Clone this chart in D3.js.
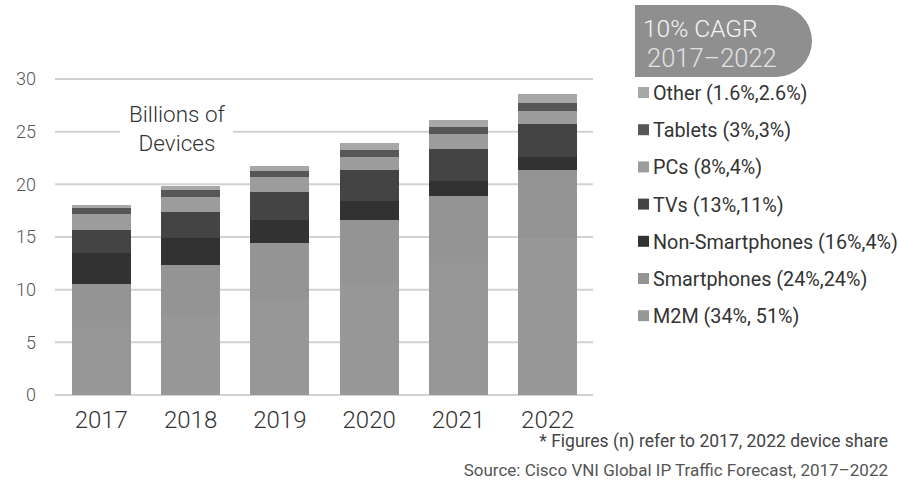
<!DOCTYPE html>
<html>
<head>
<meta charset="utf-8">
<script src="https://cdn.jsdelivr.net/npm/d3@7"></script>
<style>
  html, body { margin: 0; padding: 0; background: #fff; }
  svg { display: block; font-family: Roboto, "Open Sans", "DejaVu Sans", sans-serif; }
</style>
</head>
<body>
<svg id="chart" width="899" height="486"></svg>
<script>
// ---- data ----
const years = ["2017", "2018", "2019", "2020", "2021", "2022"];
const m2m            = [6.5, 7.6, 9.0, 10.6, 12.5, 14.9];
const smartphones    = [4.0, 4.75, 5.45, 6.0, 6.4, 6.5];
const nonSmartphones = [2.95, 2.6, 2.15, 1.85, 1.45, 1.15];
const tvs            = [2.25, 2.45, 2.7, 2.9, 3.05, 3.15];
const pcs            = [1.45, 1.4, 1.35, 1.25, 1.35, 1.3];
const tablets        = [0.65, 0.65, 0.6, 0.7, 0.7, 0.75];
const other          = [0.25, 0.4, 0.45, 0.6, 0.65, 0.8];
const seriesKeys   = ["M2M", "Smartphones", "Non-Smartphones", "TVs", "PCs", "Tablets", "Other"];
const seriesLabels = ["M2M (34%, 51%)", "Smartphones (24%,24%)", "Non\u2011Smartphones (16%,4%)", "TVs (13%,11%)", "PCs (8%,4%)", "Tablets (3%,3%)", "Other (1.6%,2.6%)"];
const seriesColors = ["#979797", "#949494", "#323232", "#444444", "#9c9c9c", "#575757", "#a7a7a7"];
const yTicks = [0, 5, 10, 15, 20, 25, 30];
const badgeLines = ["10% CAGR", "2017\u20132022"];
const unitLines = ["Billions of", "Devices"];
const footnote = "* Figures (n) refer to 2017, 2022 device share";
const source = "Source: Cisco VNI Global IP Traffic Forecast, 2017\u20132022";

// ---- build table ----
const seriesValues = [m2m, smartphones, nonSmartphones, tvs, pcs, tablets, other];
const table = years.map((y, i) => {
  const row = { year: y };
  seriesKeys.forEach((k, j) => row[k] = seriesValues[j][i]);
  return row;
});

const svg = d3.select("#chart");

const x = d3.scaleBand().domain(years).range([56, 593]).paddingInner(0.34).paddingOuter(0.177);
const y = d3.scaleLinear().domain([0, 30]).range([395, 79]);

// gridlines
svg.append("g").selectAll("line").data(yTicks).join("line")
  .attr("x1", 55).attr("x2", 593)
  .attr("y1", d => y(d)).attr("y2", d => y(d))
  .attr("stroke", "#d2d2d2").attr("stroke-width", 2);

// y tick labels
svg.append("g").selectAll("text").data(yTicks).join("text")
  .attr("x", 36).attr("y", d => y(d)).attr("dy", "0.35em")
  .attr("text-anchor", "end").attr("font-size", 18).attr("font-weight", 300)
  .attr("fill", "#555").text(d => d);

// unit label with white background
const ug = svg.append("g");
ug.append("rect").attr("x", 120).attr("y", 100).attr("width", 113).attr("height", 58).attr("fill", "#fff");
ug.selectAll("text").data(unitLines).join("text")
  .attr("x", 177).attr("y", (d, i) => 122 + i * 29)
  .attr("text-anchor", "middle").attr("font-size", 22.5).attr("font-weight", 300)
  .attr("fill", "#333").text(d => d);

// stacked bars
const stacked = d3.stack().keys(seriesKeys)(table);
svg.append("g").attr("shape-rendering", "crispEdges").selectAll("g").data(stacked).join("g")
  .attr("fill", (d, i) => seriesColors[i])
  .selectAll("rect").data(d => d).join("rect")
  .attr("x", d => x(d.data.year))
  .attr("width", x.bandwidth())
  .attr("y", d => y(d[1]))
  .attr("height", d => y(d[0]) - y(d[1]));

// x labels
svg.append("g").selectAll("text").data(years).join("text")
  .attr("x", d => x(d) + x.bandwidth() / 2).attr("y", 428)
  .attr("text-anchor", "middle").attr("font-size", 24).attr("font-weight", 300)
  .attr("fill", "#333").text(d => d);

// CAGR badge
const bg = svg.append("g");
bg.append("path").attr("d", "M635,5 H776 A36,36 0 0 1 776,77 H635 Z").attr("fill", "#8f8f8f");
bg.selectAll("text").data(badgeLines).join("text")
  .attr("x", (d, i) => i === 0 ? 643 : 647).attr("y", (d, i) => 37 + i * 30)
  .attr("font-size", (d, i) => i === 0 ? 24.5 : 25.5).attr("font-weight", 300)
  .attr("fill", (d, i) => i === 0 ? "#f4f4f4" : "#e2e2e2").text(d => d);

// legend (top to bottom: Other ... M2M)
const legendOrder = d3.range(seriesKeys.length).reverse();
const lg = svg.append("g").selectAll("g").data(legendOrder).join("g")
  .attr("transform", (d, i) => `translate(638, ${93 + i * 37.2})`);
lg.append("rect").attr("x", 0).attr("y", -6).attr("width", 11).attr("height", 11)
  .attr("fill", d => seriesColors[d]);
lg.append("text").attr("x", 15).attr("y", 0).attr("dy", "0.35em")
  .attr("font-size", 19.8).attr("font-weight", 400).attr("fill", "#333")
  .text(d => seriesLabels[d]);

// footnotes
svg.append("text").attr("x", 888).attr("y", 447).attr("text-anchor", "end")
  .attr("font-size", 17.5).attr("font-weight", 400).attr("fill", "#444").text(footnote);
svg.append("text").attr("x", 888).attr("y", 476).attr("text-anchor", "end")
  .attr("font-size", 17).attr("font-weight", 400).attr("fill", "#555").text(source);
</script>
</body>
</html>
